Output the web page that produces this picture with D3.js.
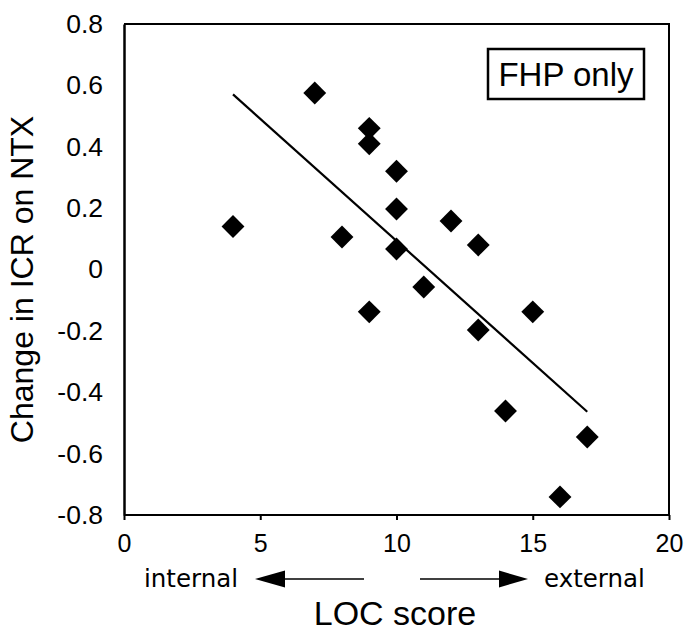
<!DOCTYPE html>
<html>
<head>
<meta charset="utf-8">
<script src="https://cdn.jsdelivr.net/npm/d3@7"></script>
<style>
  body { margin: 0; background: #fff; }
  svg { display: block; }
</style>
</head>
<body>
<div class="chart"></div>
<script>
const w = 693;
const h = 635;
const margin = { top: 24, right: 24, bottom: 120, left: 124 };
const iw = w - margin.left - margin.right;
const ih = h - margin.top - margin.bottom;

// LOC score (x) and change in ICR on NTX (y), FHP only
const locScore = [4, 7, 9, 9, 10, 10, 8, 10, 12, 13, 11, 9, 15, 13, 14, 17, 16];
const icrChange = [0.14, 0.575, 0.46, 0.41, 0.32, 0.197, 0.106, 0.067, 0.158, 0.08, -0.057, -0.138, -0.138, -0.197, -0.461, -0.546, -0.741];
const xTicks = [0, 5, 10, 15, 20];
const yTicks = [-0.8, -0.6, -0.4, -0.2, 0, 0.2, 0.4, 0.6, 0.8];

const svg = d3
  .select(".chart")
  .append("svg")
  .attr("width", w)
  .attr("height", h);

const g = svg.append("g").attr("transform", `translate(${margin.left},${margin.top})`);

const xScale = d3.scaleLinear().domain([0, 20]).range([0, iw]);
const yScale = d3.scaleLinear().domain([-0.8, 0.8]).range([ih, 0]);

// frame (top and right)
g.append("path")
  .attr("d", `M0,0H${iw}V${ih}`)
  .attr("fill", "none")
  .attr("stroke", "#000")
  .attr("stroke-width", 2);

// x axis
const xAxis = d3.axisBottom(xScale).tickValues(xTicks).tickSize(5).tickPadding(14).tickFormat(d3.format("d"));
const gx = g.append("g").attr("transform", `translate(0,${ih})`).call(xAxis);
gx.select(".domain").attr("stroke-width", 2).attr("d", `M0,0H${iw}`);
gx.selectAll(".tick line").attr("stroke-width", 2);
gx.selectAll("text")
  .attr("font-family", "Liberation Sans, Arial, sans-serif")
  .attr("font-size", 25)
  .attr("fill", "#000");

// y axis
const yFmt = (d) => (d === 0 ? "0" : d3.format(".1f")(d).replace("−", "-"));
const yAxis = d3.axisLeft(yScale).tickValues(yTicks).tickSize(0).tickPadding(21).tickFormat(yFmt);
const gy = g.append("g").call(yAxis);
gy.select(".domain").attr("stroke-width", 2.5);
gy.selectAll("text")
  .attr("font-family", "Liberation Sans, Arial, sans-serif")
  .attr("font-size", 26.5)
  .attr("fill", "#000");

// regression line (least squares)
const n = locScore.length;
const mx = d3.mean(locScore);
const my = d3.mean(icrChange);
let sxy = 0, sxx = 0;
for (let i = 0; i < n; i++) {
  sxy += (locScore[i] - mx) * (icrChange[i] - my);
  sxx += (locScore[i] - mx) ** 2;
}
const slope = sxy / sxx;
const icpt = my - slope * mx;
const xr = d3.extent(locScore);
g.append("line")
  .attr("x1", xScale(xr[0]))
  .attr("y1", yScale(icpt + slope * xr[0]))
  .attr("x2", xScale(xr[1]))
  .attr("y2", yScale(icpt + slope * xr[1]))
  .attr("stroke", "#000")
  .attr("stroke-width", 2.2);

// points
g.selectAll(".pt")
  .data(locScore)
  .enter()
  .append("path")
  .attr("class", "pt")
  .attr("d", d3.symbol(d3.symbolSquare, 262))
  .attr("transform", (d, i) => `translate(${xScale(d)},${yScale(icrChange[i])}) rotate(45)`)
  .attr("fill", "#000");

// FHP only box
svg.append("rect")
  .attr("x", 488)
  .attr("y", 49)
  .attr("width", 156)
  .attr("height", 50)
  .attr("fill", "#fff")
  .attr("stroke", "#000")
  .attr("stroke-width", 2.5);
svg.append("text")
  .attr("x", 566)
  .attr("y", 86)
  .attr("text-anchor", "middle")
  .attr("font-family", "Liberation Sans, Arial, sans-serif")
  .attr("font-size", 33)
  .text("FHP only");

// y label
svg.append("text")
  .attr("transform", `translate(33,${margin.top + ih / 2 + 10}) rotate(-90)`)
  .attr("text-anchor", "middle")
  .attr("font-family", "Liberation Sans, Arial, sans-serif")
  .attr("font-size", 32)
  .text("Change in ICR on NTX");

// x label
svg.append("text")
  .attr("x", 395)
  .attr("y", 625)
  .attr("text-anchor", "middle")
  .attr("font-family", "Liberation Sans, Arial, sans-serif")
  .attr("font-size", 34)
  .text("LOC score");

// internal / external arrows
const ay = 579;
svg.append("text")
  .attr("x", 144)
  .attr("y", ay + 8)
  .attr("font-family", "DejaVu Sans, Verdana, sans-serif")
  .attr("font-size", 24.5)
  .text("internal");
svg.append("text")
  .attr("x", 544)
  .attr("y", ay + 8)
  .attr("font-family", "DejaVu Sans, Verdana, sans-serif")
  .attr("font-size", 24.5)
  .text("external");

svg.append("line").attr("x1", 364).attr("y1", ay).attr("x2", 280).attr("y2", ay).attr("stroke", "#000").attr("stroke-width", 1.5);
svg.append("path").attr("d", `M255,${ay}L285,${ay - 8.5}L285,${ay + 8.5}Z`).attr("fill", "#000");
svg.append("line").attr("x1", 420).attr("y1", ay).attr("x2", 505).attr("y2", ay).attr("stroke", "#000").attr("stroke-width", 1.5);
svg.append("path").attr("d", `M528,${ay}L499,${ay - 8.5}L499,${ay + 8.5}Z`).attr("fill", "#000");
</script>
</body>
</html>
